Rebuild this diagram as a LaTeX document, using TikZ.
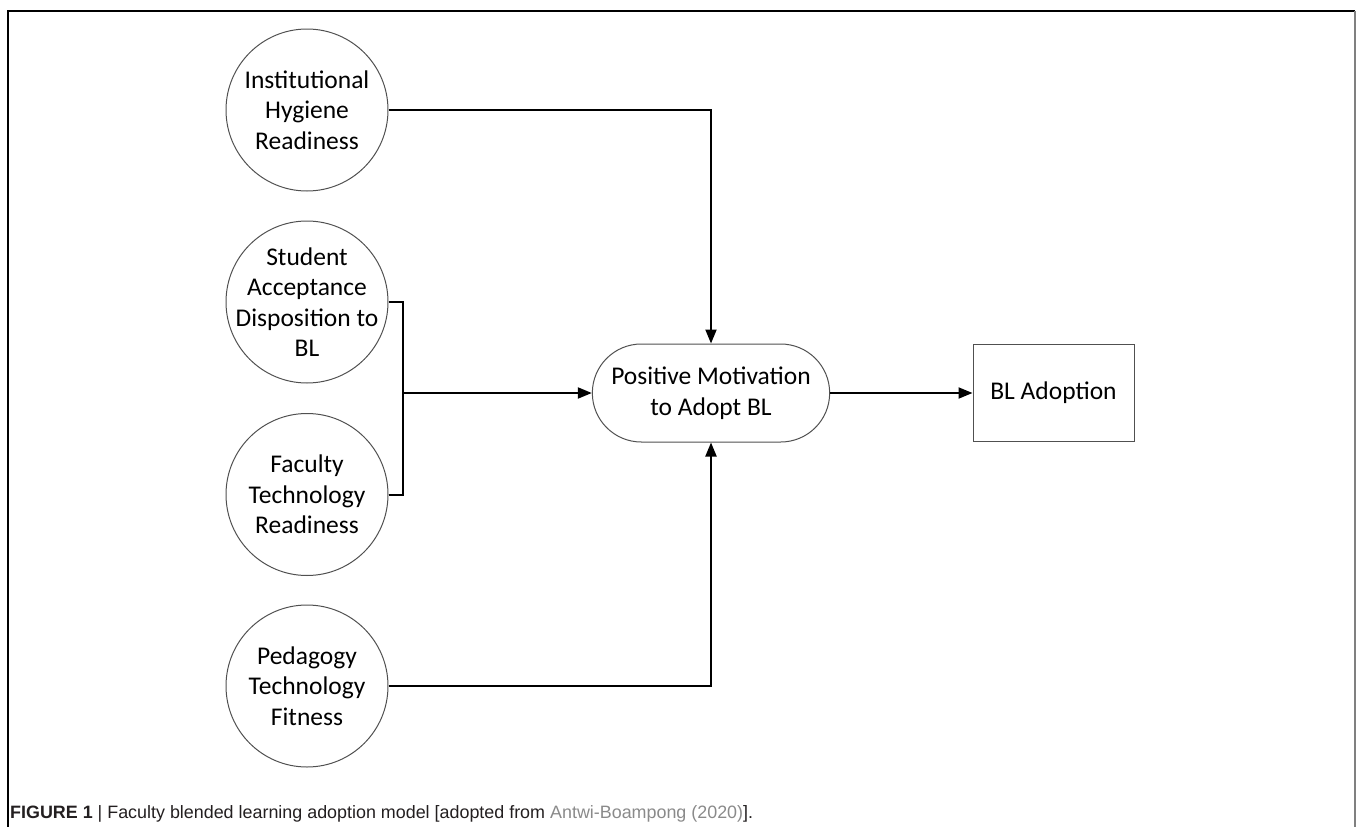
\documentclass[tikz,border=0pt]{standalone}
\usepackage{fontspec}
\setmainfont{Carlito}
\newfontfamily\capfont{Liberation Sans}
\usetikzlibrary{arrows.meta,shapes.misc}
\definecolor{outline}{HTML}{505050}
\definecolor{captext}{HTML}{231F20}
\definecolor{linkgray}{HTML}{8A8A8A}
\tikzset{
  factor/.style={circle, draw=outline, line width=1pt, minimum size=162pt, inner sep=-30pt,
    align=center, font=\fontsize{25.5}{30.5}\selectfont, text=black},
  pill/.style={rounded rectangle, draw=outline, line width=1pt, minimum width=244pt,
    minimum height=98pt, align=center, font=\fontsize{25.5}{30.5}\selectfont, text=black},
  outbox/.style={rectangle, draw=outline, line width=1pt, minimum width=161pt,
    minimum height=97pt, align=center, font=\fontsize{25.5}{30.5}\selectfont, text=black},
  conn/.style={line width=2pt, black},
  arr/.style={conn, -{Triangle[length=14pt,width=11pt]}},
}
\begin{document}
\begin{tikzpicture}[x=1pt,y=-1pt]
\useasboundingbox (0,0) rectangle (1358,827);
% frame
\draw[line width=1.3pt, black] (8,827) -- (8,11) -- (1355,11);
\draw[line width=2pt, gray] (1355,11) -- (1355,827);

\node[factor] (inst) at (307,110) {Institutional\\Hygiene\\Readiness};
\node[factor] (stud) at (307,302) {Student\\Acceptance\\Disposition to\\BL};
\node[factor] (fac)  at (307,494.5) {Faculty\\Technology\\Readiness};
\node[factor] (ped)  at (307,686) {Pedagogy\\Technology\\Fitness};

\node[pill] (mot) at (711,393) {Positive Motivation\\to Adopt BL};
\node[outbox] (bl) at (1053.5,393) {BL Adoption};

\coordinate (br) at (403,393);

\draw[arr] (inst.east) -| (mot.north);
\draw[arr] (ped.east) -| (mot.south);
\draw[conn] (stud.east) -| (br);
\draw[conn] (fac.east) -| (br);
\draw[arr] (br) -- (mot.west);
\draw[arr] (mot.east) -- (bl.west);

\node[anchor=base west, inner sep=0pt, font=\capfont\fontsize{17.9}{20}\selectfont, text=captext] (cap) at (10,818)
  {\textbf{FIGURE 1} | Faculty blended learning adoption model [adopted from \textcolor{linkgray}{Antwi-Boampong (2020)}].};
\end{tikzpicture}
\end{document}
